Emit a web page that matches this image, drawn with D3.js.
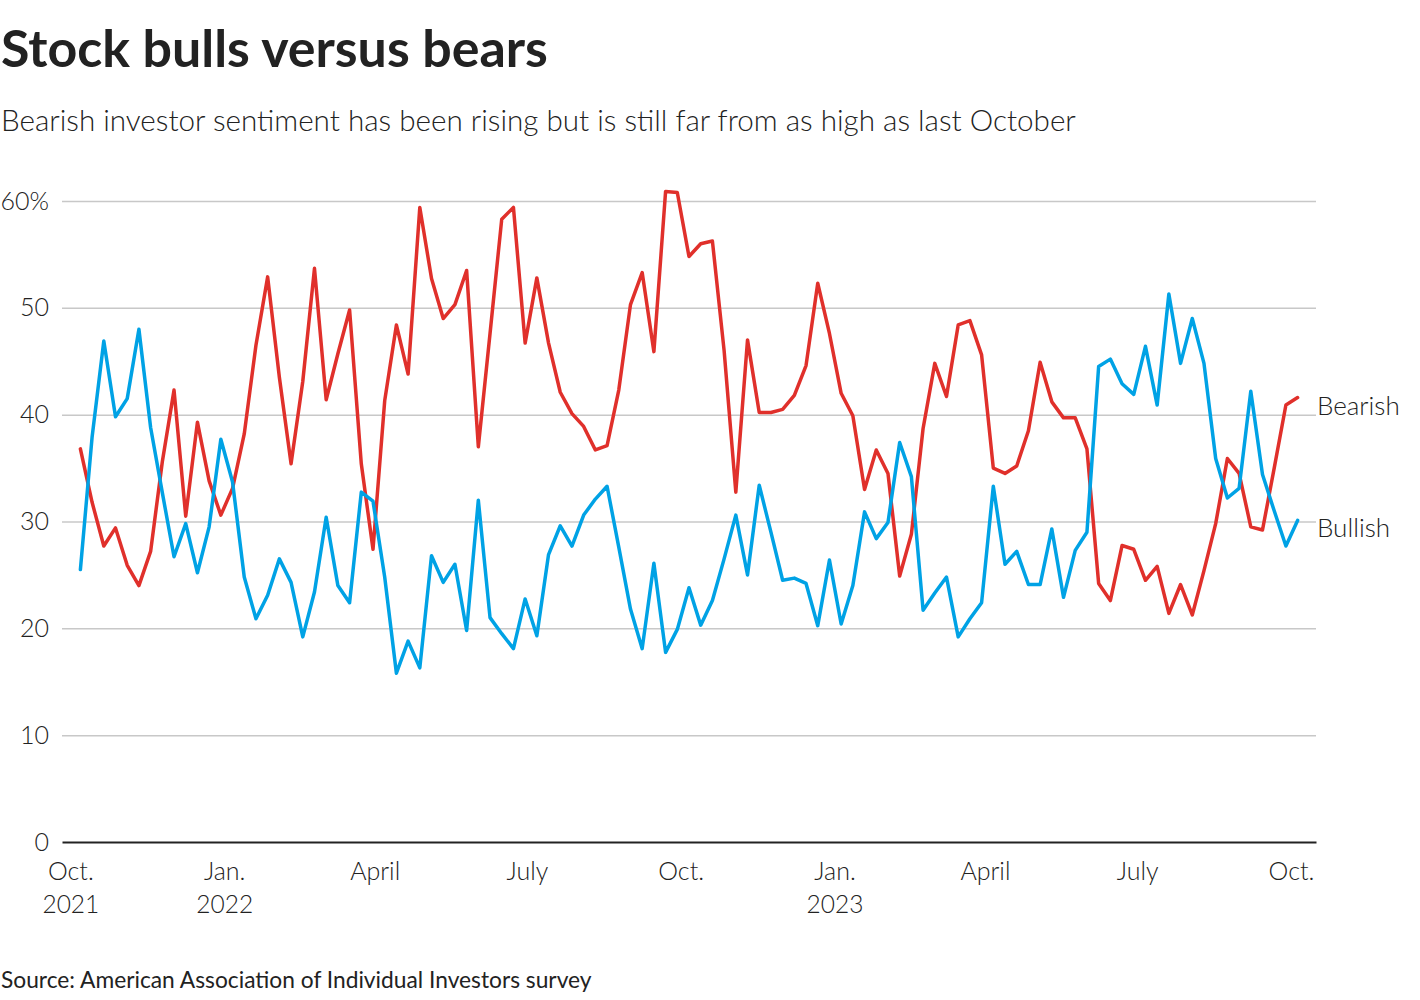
<!DOCTYPE html>
<html>
<head>
<meta charset="utf-8">
<script src="https://cdn.jsdelivr.net/npm/d3@7"></script>
<style>
  html, body { margin: 0; padding: 0; background: #fff; }
  svg text { font-family: "Source Sans Pro", Lato, "Noto Sans", sans-serif; fill: #222; }
</style>
</head>
<body>
<svg id="chart" width="1420" height="1000"></svg>
<script>
// ---- data ----
const firstWeek = "2021-10-07"; // AAII weekly survey (Thursdays)
const bullish = [25.5, 37.9, 46.9, 39.8, 41.5, 48.0, 38.8, 32.7, 26.7, 29.8,
  25.2, 29.5, 37.7, 33.7, 24.8, 20.9, 23.1, 26.5, 24.3, 19.2,
  23.4, 30.4, 24.0, 22.4, 32.75, 31.9, 24.8, 15.8, 18.8, 16.3,
  26.8, 24.3, 26.0, 19.8, 32.0, 21.0, 19.5, 18.1, 22.75, 19.3,
  26.9, 29.6, 27.7, 30.6, 32.1, 33.3, 27.6, 21.8, 18.1, 26.1,
  17.75, 19.9, 23.8, 20.3, 22.6, 26.5, 30.6, 25.0, 33.4, 29.0,
  24.5, 24.7, 24.2, 20.25, 26.4, 20.4, 24.0, 30.9, 28.4, 29.9,
  37.4, 34.2, 21.7, 23.3, 24.8, 19.2, 20.9, 22.4, 33.3, 26.0,
  27.2, 24.1, 24.1, 29.3, 22.9, 27.3, 29.0, 44.5, 45.2, 42.9,
  41.9, 46.4, 40.9, 51.3, 44.8, 49.0, 44.8, 35.9, 32.2, 33.1,
  42.2, 34.4, 31.0, 27.7, 30.1];
const bearish = [36.8, 31.8, 27.7, 29.4, 25.9, 24.0, 27.2, 35.6, 42.3, 30.5,
  39.3, 33.8, 30.6, 33.1, 38.2, 46.5, 52.9, 43.5, 35.4, 43.1,
  53.7, 41.4, 45.7, 49.8, 35.4, 27.4, 41.3, 48.4, 43.8, 59.4,
  52.75, 49.0, 50.3, 53.5, 37.0, 47.6, 58.3, 59.4, 46.7, 52.8,
  46.7, 42.1, 40.1, 38.9, 36.7, 37.1, 42.3, 50.3, 53.3, 45.9,
  60.9, 60.8, 54.8, 56.0, 56.25, 46.0, 32.75, 47.0, 40.2, 40.2,
  40.5, 41.8, 44.6, 52.3, 47.6, 42.0, 39.9, 33.0, 36.7, 34.5,
  24.9, 28.8, 38.7, 44.8, 41.7, 48.4, 48.8, 45.6, 35.0, 34.5,
  35.2, 38.5, 44.9, 41.2, 39.7, 39.7, 36.8, 24.2, 22.6, 27.75,
  27.4, 24.5, 25.8, 21.4, 24.1, 21.25, 25.4, 29.8, 35.9, 34.5,
  29.5, 29.2, 35.0, 40.9, 41.6];
const seriesNames = ["Bearish", "Bullish"];
const yTicks = [0, 10, 20, 30, 40, 50, 60];
const xTickDates = ["2021-10-01", "2022-01-01", "2022-04-01", "2022-07-01", "2022-10-01",
                    "2023-01-01", "2023-04-01", "2023-07-01", "2023-10-01"];
const xTickMonths = ["Oct.", "Jan.", "April", "July", "Oct.", "Jan.", "April", "July", "Oct."];
const xTickYears = ["2021", "2022", "", "", "", "2023", "", "", ""];

// ---- setup ----
const parse = d3.utcParse("%Y-%m-%d");
const start = parse(firstWeek);
const dates = bullish.map((_, i) => d3.utcDay.offset(start, 7 * i));
const colors = { Bearish: "#e0302b", Bullish: "#00a2e5" };
const svg = d3.select("#chart");

const x = d3.scaleUtc()
  .domain([parse("2021-09-26"), parse("2023-10-16")])
  .range([62, 1316]);
const y = d3.scaleLinear().domain([0, 60]).range([842, 201]);

function fit(sel, target) {
  const w = sel.node().getComputedTextLength();
  const fs = parseFloat(sel.attr("font-size"));
  sel.attr("font-size", fs * target / w);
}

// ---- titles ----
const title = svg.append("text").attr("x", 1).attr("y", 67)
  .attr("font-size", 50).attr("font-weight", 700).attr("fill", "#1e1e1e")
  .text("Stock bulls versus bears");
fit(title, 547);
const sub = svg.append("text").attr("x", 1).attr("y", 131)
  .attr("font-size", 28).attr("font-weight", 300).attr("fill", "#2a2a2a")
  .text("Bearish investor sentiment has been rising but is still far from as high as last October");
fit(sub, 1075);

// ---- grid + y axis ----
const yAxis = d3.axisLeft(y).tickValues(yTicks).tickSize(0)
  .tickFormat(d => d === 60 ? "60%" : String(d));
const gy = svg.append("g").attr("transform", "translate(49,0)").call(yAxis);
gy.select(".domain").remove();
gy.selectAll("text").attr("font-size", 25).attr("font-weight", 300)
  .attr("font-family", null).attr("fill", "#333").attr("dx", 0).attr("x", 0);

const grid = d3.axisLeft(y).tickValues(yTicks.filter(d => d > 0))
  .tickSize(-(1316 - 62)).tickFormat("");
const gg = svg.append("g").attr("transform", "translate(62,0)").call(grid);
gg.select(".domain").remove();
gg.selectAll("line").attr("stroke", "#c8c8c8").attr("stroke-width", 1.5);

// ---- x axis ----
const xd = xTickDates.map(parse);
const xAxis = d3.axisBottom(x).tickValues(xd).tickSize(0).tickFormat((d, i) => xTickMonths[i]);
const gx = svg.append("g").attr("transform", "translate(0,842)").call(xAxis);
gx.select(".domain").attr("stroke", "#222").attr("stroke-width", 2);
gx.selectAll(".tick text").attr("font-size", 25).attr("font-weight", 300)
  .attr("font-family", null).attr("fill", "#333").attr("y", 0).attr("dy", 0)
  .attr("transform", "translate(0,38)");
gx.selectAll(".tick").append("text")
  .attr("text-anchor", "middle").attr("font-size", 24.5).attr("font-weight", 300)
  .attr("fill", "#333").attr("y", 71)
  .text((d, i) => xTickYears[i]);

// ---- lines ----
const line = d3.line().x((d, i) => x(dates[i])).y(d => y(d));
const seriesData = { Bearish: bearish, Bullish: bullish };
seriesNames.forEach(name => {
  svg.append("path").datum(seriesData[name])
    .attr("fill", "none").attr("stroke", colors[name])
    .attr("stroke-width", 3.5).attr("stroke-linejoin", "round").attr("stroke-linecap", "round")
    .attr("d", line);
});

// ---- series labels ----
seriesNames.forEach(name => {
  const v = seriesData[name];
  svg.append("text").attr("x", 1317).attr("y", y(v[v.length - 1]) + 17)
    .attr("font-size", 26).attr("font-weight", 300).attr("fill", "#333")
    .text(name);
});

// ---- source ----
const src = svg.append("text").attr("x", 1).attr("y", 988)
  .attr("font-size", 22).attr("font-weight", 400).attr("fill", "#222")
  .text("Source: American Association of Individual Investors survey");
fit(src, 591);
</script>
</body>
</html>
